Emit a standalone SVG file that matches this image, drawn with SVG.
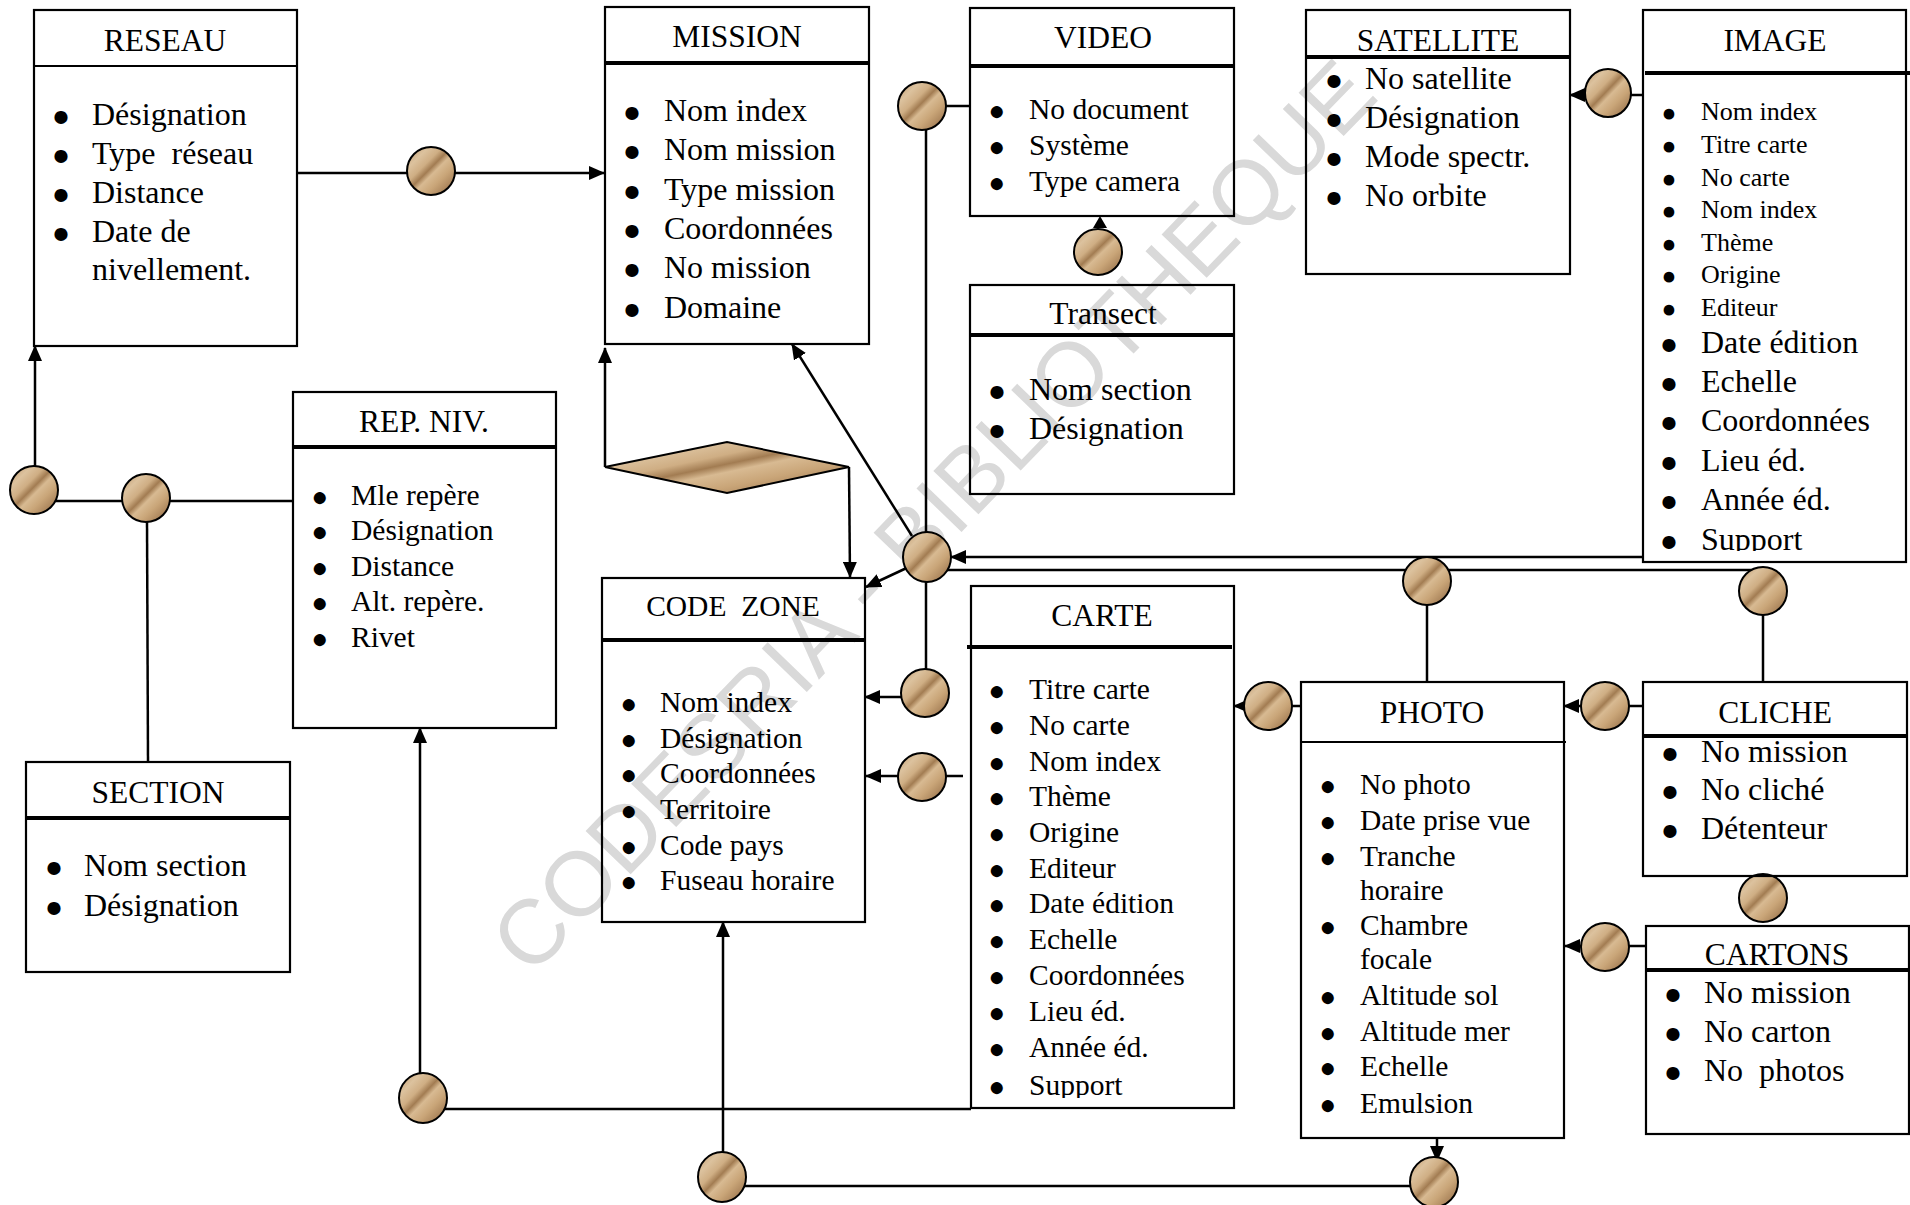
<svg xmlns="http://www.w3.org/2000/svg" width="1910" height="1205" viewBox="0 0 1910 1205">
<style>
text{font-family:"Liberation Serif","Times New Roman",serif;fill:#000;white-space:pre}
.box{fill:none;stroke:#000;stroke-width:2.2}
.hd{stroke:#000;stroke-width:4}
.hdt{stroke:#000;stroke-width:2}
.t{font-size:31.5px;text-anchor:middle}
.b{text-anchor:middle;font-size:0.95em}
.f32{font-size:32px}
.f29{font-size:29.5px}
.f26{font-size:26px}
.c{fill:none;stroke:#000;stroke-width:2.5}
.rel{fill:url(#rock);stroke:#000;stroke-width:2}
.wm{font-family:"Liberation Sans",Arial,sans-serif;font-size:91px;fill:#d9d9d9;text-anchor:middle}
</style>
<defs>
<linearGradient id="rock" x1="0.1" y1="0" x2="0.9" y2="0.8">
<stop offset="0" stop-color="#c29d72"/>
<stop offset="0.22" stop-color="#dcc29e"/>
<stop offset="0.4" stop-color="#cfae84"/>
<stop offset="0.52" stop-color="#a27c52"/>
<stop offset="0.62" stop-color="#d8ba92"/>
<stop offset="0.8" stop-color="#c9a578"/>
<stop offset="1" stop-color="#a9835a"/>
</linearGradient>
<marker id="ah" markerUnits="userSpaceOnUse" markerWidth="16" markerHeight="14" refX="15" refY="7" orient="auto">
<path d="M0,0 L16,7 L0,14 z" fill="#000"/>
</marker>
<clipPath id="clipImg"><rect x="1643" y="10" width="263" height="541"/></clipPath>
<clipPath id="clipCarte"><rect x="971" y="586" width="263" height="512"/></clipPath>
</defs>
<rect x="0" y="0" width="1910" height="1205" fill="#fff"/>
<text class="wm" transform="translate(933,516) rotate(-46)" dominant-baseline="central">CODESRIA - BIBLIOTHEQUE</text>

<g id="connectors">
<line class="c" x1="297" y1="173" x2="604" y2="173" marker-end="url(#ah)"/>
<line class="c" x1="35" y1="466" x2="35" y2="346" marker-end="url(#ah)"/>
<line class="c" x1="34" y1="501" x2="293" y2="501"/>
<line class="c" x1="147" y1="520" x2="148" y2="762"/>
<polyline class="c" points="605,467 605,348" marker-end="url(#ah)"/>
<polyline class="c" points="849,467 850,577" marker-end="url(#ah)"/>
<line class="c" x1="912" y1="536" x2="792" y2="344" marker-end="url(#ah)"/>
<line class="c" x1="913" y1="565" x2="866" y2="587" marker-end="url(#ah)"/>
<line class="c" x1="926" y1="106" x2="926" y2="693"/>
<line class="c" x1="946" y1="106" x2="970" y2="106"/>
<line class="c" x1="1643" y1="557" x2="951" y2="557" marker-end="url(#ah)"/>
<line class="c" x1="927" y1="570" x2="1763" y2="570"/>
<line class="c" x1="1427" y1="605" x2="1427" y2="682"/>
<line class="c" x1="1763" y1="615" x2="1763" y2="682"/>
<line class="c" x1="1643" y1="95" x2="1570" y2="95" marker-end="url(#ah)"/>
<line class="c" x1="925" y1="697" x2="865" y2="697" marker-end="url(#ah)"/>
<line class="c" x1="963" y1="776" x2="866" y2="776" marker-end="url(#ah)"/>
<line class="c" x1="1301" y1="706" x2="1234" y2="706" marker-end="url(#ah)"/>
<line class="c" x1="1643" y1="706" x2="1564" y2="706" marker-end="url(#ah)"/>
<line class="c" x1="1646" y1="946" x2="1565" y2="946" marker-end="url(#ah)"/>
<line class="c" x1="420" y1="1098" x2="420" y2="728" marker-end="url(#ah)"/>
<line class="c" x1="423" y1="1109" x2="971" y2="1109"/>
<line class="c" x1="723" y1="1176" x2="723" y2="922" marker-end="url(#ah)"/>
<line class="c" x1="722" y1="1186" x2="1433" y2="1186"/>
<line class="c" x1="1437" y1="1138" x2="1437" y2="1161" marker-end="url(#ah)"/>
<polygon points="1093,228 1100,216 1107,228" fill="#000"/>
</g>

<g id="relations">
<ellipse id="r-reseau-mission" class="rel" cx="431" cy="171" rx="24" ry="24"/>
<ellipse id="r-reseau-rep" class="rel" cx="34" cy="490" rx="24" ry="24"/>
<ellipse id="r-section-rep" class="rel" cx="146" cy="498" rx="24" ry="24"/>
<polygon id="r-diamond" class="rel" points="605,467 727,442 849,467 727,493"/>
<ellipse id="r-video" class="rel" cx="922" cy="106" rx="24" ry="24"/>
<ellipse id="r-video-transect" class="rel" cx="1098" cy="252" rx="24" ry="23"/>
<ellipse id="r-sat-image" class="rel" cx="1608" cy="93" rx="23" ry="24"/>
<ellipse id="r-hub" class="rel" cx="927" cy="557" rx="24" ry="25"/>
<ellipse id="r-photo-top" class="rel" cx="1427" cy="581" rx="24" ry="24"/>
<ellipse id="r-cliche-top" class="rel" cx="1763" cy="591" rx="24" ry="24"/>
<ellipse id="r-cz1" class="rel" cx="925" cy="693" rx="24" ry="24"/>
<ellipse id="r-cz2" class="rel" cx="922" cy="777" rx="24" ry="24"/>
<ellipse id="r-carte-photo" class="rel" cx="1268" cy="706" rx="24" ry="24"/>
<ellipse id="r-photo-cliche" class="rel" cx="1605" cy="706" rx="24" ry="24"/>
<ellipse id="r-cliche-cartons" class="rel" cx="1763" cy="898" rx="24" ry="24"/>
<ellipse id="r-photo-cartons" class="rel" cx="1605" cy="947" rx="24" ry="24"/>
<ellipse id="r-rep-carte" class="rel" cx="423" cy="1098" rx="24" ry="25"/>
<ellipse id="r-cz-bottom" class="rel" cx="722" cy="1177" rx="24" ry="25"/>
<ellipse id="r-photo-bottom" class="rel" cx="1434" cy="1182" rx="24" ry="25"/>
</g>

<g id="reseau">
<rect class="box" x="34" y="10" width="263" height="336"/>
<line class="hdt" x1="34" y1="66" x2="297" y2="66"/>
<text class="t" x="165" y="51">RESEAU</text>
<text class="f32"><tspan class="b" x="61" y="126">●</tspan><tspan x="92" y="125">Désignation</tspan></text>
<text class="f32"><tspan class="b" x="61" y="165">●</tspan><tspan x="92" y="164">Type  réseau</tspan></text>
<text class="f32"><tspan class="b" x="61" y="204">●</tspan><tspan x="92" y="203">Distance</tspan></text>
<text class="f32"><tspan class="b" x="61" y="243">●</tspan><tspan x="92" y="242">Date de</tspan></text>
<text class="f32" x="92" y="280">nivellement.</text>
</g>

<g id="mission">
<rect class="box" x="605" y="7" width="264" height="337"/>
<line class="hd" x1="605" y1="63" x2="869" y2="63"/>
<text class="t" x="737" y="47">MISSION</text>
<text class="f32"><tspan class="b" x="632" y="122">●</tspan><tspan x="664" y="121">Nom index</tspan></text>
<text class="f32"><tspan class="b" x="632" y="161">●</tspan><tspan x="664" y="160">Nom mission</tspan></text>
<text class="f32"><tspan class="b" x="632" y="201">●</tspan><tspan x="664" y="200">Type mission</tspan></text>
<text class="f32"><tspan class="b" x="632" y="240">●</tspan><tspan x="664" y="239">Coordonnées</tspan></text>
<text class="f32"><tspan class="b" x="632" y="279">●</tspan><tspan x="664" y="278">No mission</tspan></text>
<text class="f32"><tspan class="b" x="632" y="319">●</tspan><tspan x="664" y="318">Domaine</tspan></text>
</g>

<g id="video">
<rect class="box" x="970" y="8" width="264" height="208"/>
<line class="hd" x1="970" y1="66" x2="1234" y2="66"/>
<text class="t" x="1103" y="48">VIDEO</text>
<text class="f29"><tspan class="b" x="997" y="120">●</tspan><tspan x="1029" y="119">No document</tspan></text>
<text class="f29"><tspan class="b" x="997" y="156">●</tspan><tspan x="1029" y="155">Système</tspan></text>
<text class="f29"><tspan class="b" x="997" y="192">●</tspan><tspan x="1029" y="191">Type camera</tspan></text>
</g>

<g id="transect">
<rect class="box" x="970" y="285" width="264" height="209"/>
<line class="hd" x1="970" y1="335" x2="1234" y2="335"/>
<text class="t" x="1103" y="324">Transect</text>
<text class="f32"><tspan class="b" x="997" y="401">●</tspan><tspan x="1029" y="400">Nom section</tspan></text>
<text class="f32"><tspan class="b" x="997" y="440">●</tspan><tspan x="1029" y="439">Désignation</tspan></text>
</g>

<g id="satellite">
<rect class="box" x="1306" y="10" width="264" height="264"/>
<line class="hd" x1="1306" y1="57" x2="1570" y2="57"/>
<text class="t" x="1438" y="51">SATELLITE</text>
<text class="f32"><tspan class="b" x="1334" y="90">●</tspan><tspan x="1365" y="89">No satellite</tspan></text>
<text class="f32"><tspan class="b" x="1334" y="129">●</tspan><tspan x="1365" y="128">Désignation</tspan></text>
<text class="f32"><tspan class="b" x="1334" y="168">●</tspan><tspan x="1365" y="167">Mode spectr.</tspan></text>
<text class="f32"><tspan class="b" x="1334" y="207">●</tspan><tspan x="1365" y="206">No orbite</tspan></text>
</g>

<g id="image">
<rect class="box" x="1643" y="10" width="263" height="552"/>
<line class="hd" x1="1645" y1="73" x2="1910" y2="73"/>
<text class="t" x="1775" y="51">IMAGE</text>
<g clip-path="url(#clipImg)">
<text class="f26"><tspan class="b" x="1669" y="121">●</tspan><tspan x="1701" y="120">Nom index</tspan></text>
<text class="f26"><tspan class="b" x="1669" y="154">●</tspan><tspan x="1701" y="153">Titre carte</tspan></text>
<text class="f26"><tspan class="b" x="1669" y="187">●</tspan><tspan x="1701" y="186">No carte</tspan></text>
<text class="f26"><tspan class="b" x="1669" y="219">●</tspan><tspan x="1701" y="218">Nom index</tspan></text>
<text class="f26"><tspan class="b" x="1669" y="252">●</tspan><tspan x="1701" y="251">Thème</tspan></text>
<text class="f26"><tspan class="b" x="1669" y="284">●</tspan><tspan x="1701" y="283">Origine</tspan></text>
<text class="f26"><tspan class="b" x="1669" y="317">●</tspan><tspan x="1701" y="316">Editeur</tspan></text>
<text class="f32"><tspan class="b" x="1669" y="354">●</tspan><tspan x="1701" y="353">Date édition</tspan></text>
<text class="f32"><tspan class="b" x="1669" y="393">●</tspan><tspan x="1701" y="392">Echelle</tspan></text>
<text class="f32"><tspan class="b" x="1669" y="432">●</tspan><tspan x="1701" y="431">Coordonnées</tspan></text>
<text class="f32"><tspan class="b" x="1669" y="472">●</tspan><tspan x="1701" y="471">Lieu éd.</tspan></text>
<text class="f32"><tspan class="b" x="1669" y="511">●</tspan><tspan x="1701" y="510">Année éd.</tspan></text>
<text class="f32"><tspan class="b" x="1669" y="551">●</tspan><tspan x="1701" y="550">Support</tspan></text>
</g>
</g>

<g id="rep-niv">
<rect class="box" x="293" y="392" width="263" height="336"/>
<line class="hd" x1="293" y1="447" x2="556" y2="447"/>
<text class="t" x="424" y="432">REP. NIV.</text>
<text class="f29"><tspan class="b" x="320" y="506">●</tspan><tspan x="351" y="505">Mle repère</tspan></text>
<text class="f29"><tspan class="b" x="320" y="541">●</tspan><tspan x="351" y="540">Désignation</tspan></text>
<text class="f29"><tspan class="b" x="320" y="577">●</tspan><tspan x="351" y="576">Distance</tspan></text>
<text class="f29"><tspan class="b" x="320" y="612">●</tspan><tspan x="351" y="611">Alt. repère.</tspan></text>
<text class="f29"><tspan class="b" x="320" y="648">●</tspan><tspan x="351" y="647">Rivet</tspan></text>
</g>

<g id="section">
<rect class="box" x="26" y="762" width="264" height="210"/>
<line class="hd" x1="26" y1="818" x2="290" y2="818"/>
<text class="t" x="158" y="803">SECTION</text>
<text class="f32"><tspan class="b" x="54" y="877">●</tspan><tspan x="84" y="876">Nom section</tspan></text>
<text class="f32"><tspan class="b" x="54" y="917">●</tspan><tspan x="84" y="916">Désignation</tspan></text>
</g>

<g id="code-zone">
<rect class="box" x="602" y="578" width="263" height="344"/>
<line class="hd" x1="602" y1="640" x2="865" y2="640"/>
<text class="t" x="733" y="616" style="font-size:29.5px">CODE  ZONE</text>
<text class="f29"><tspan class="b" x="629" y="713">●</tspan><tspan x="660" y="712">Nom index</tspan></text>
<text class="f29"><tspan class="b" x="629" y="749">●</tspan><tspan x="660" y="748">Désignation</tspan></text>
<text class="f29"><tspan class="b" x="629" y="784">●</tspan><tspan x="660" y="783">Coordonnées</tspan></text>
<text class="f29"><tspan class="b" x="629" y="820">●</tspan><tspan x="660" y="819">Territoire</tspan></text>
<text class="f29"><tspan class="b" x="629" y="856">●</tspan><tspan x="660" y="855">Code pays</tspan></text>
<text class="f29"><tspan class="b" x="629" y="891">●</tspan><tspan x="660" y="890">Fuseau horaire</tspan></text>
</g>

<g id="carte">
<rect class="box" x="971" y="586" width="263" height="522"/>
<line class="hd" x1="967" y1="647" x2="1232" y2="647"/>
<text class="t" x="1102" y="626">CARTE</text>
<g clip-path="url(#clipCarte)">
<text class="f29"><tspan class="b" x="997" y="700">●</tspan><tspan x="1029" y="699">Titre carte</tspan></text>
<text class="f29"><tspan class="b" x="997" y="736">●</tspan><tspan x="1029" y="735">No carte</tspan></text>
<text class="f29"><tspan class="b" x="997" y="772">●</tspan><tspan x="1029" y="771">Nom index</tspan></text>
<text class="f29"><tspan class="b" x="997" y="807">●</tspan><tspan x="1029" y="806">Thème</tspan></text>
<text class="f29"><tspan class="b" x="997" y="843">●</tspan><tspan x="1029" y="842">Origine</tspan></text>
<text class="f29"><tspan class="b" x="997" y="879">●</tspan><tspan x="1029" y="878">Editeur</tspan></text>
<text class="f29"><tspan class="b" x="997" y="914">●</tspan><tspan x="1029" y="913">Date édition</tspan></text>
<text class="f29"><tspan class="b" x="997" y="950">●</tspan><tspan x="1029" y="949">Echelle</tspan></text>
<text class="f29"><tspan class="b" x="997" y="986">●</tspan><tspan x="1029" y="985">Coordonnées</tspan></text>
<text class="f29"><tspan class="b" x="997" y="1022">●</tspan><tspan x="1029" y="1021">Lieu éd.</tspan></text>
<text class="f29"><tspan class="b" x="997" y="1058">●</tspan><tspan x="1029" y="1057">Année éd.</tspan></text>
<text class="f29"><tspan class="b" x="997" y="1096">●</tspan><tspan x="1029" y="1095">Support</tspan></text>
</g>
</g>

<g id="photo">
<rect class="box" x="1301" y="682" width="263" height="456"/>
<line class="hdt" x1="1301" y1="742" x2="1566" y2="742"/>
<text class="t" x="1432" y="723">PHOTO</text>
<text class="f29"><tspan class="b" x="1328" y="795">●</tspan><tspan x="1360" y="794">No photo</tspan></text>
<text class="f29"><tspan class="b" x="1328" y="831">●</tspan><tspan x="1360" y="830">Date prise vue</tspan></text>
<text class="f29"><tspan class="b" x="1328" y="867">●</tspan><tspan x="1360" y="866">Tranche</tspan></text>
<text class="f29" x="1360" y="900">horaire</text>
<text class="f29"><tspan class="b" x="1328" y="936">●</tspan><tspan x="1360" y="935">Chambre</tspan></text>
<text class="f29" x="1360" y="969">focale</text>
<text class="f29"><tspan class="b" x="1328" y="1006">●</tspan><tspan x="1360" y="1005">Altitude sol</tspan></text>
<text class="f29"><tspan class="b" x="1328" y="1042">●</tspan><tspan x="1360" y="1041">Altitude mer</tspan></text>
<text class="f29"><tspan class="b" x="1328" y="1077">●</tspan><tspan x="1360" y="1076">Echelle</tspan></text>
<text class="f29"><tspan class="b" x="1328" y="1114">●</tspan><tspan x="1360" y="1113">Emulsion</tspan></text>
</g>

<g id="cliche">
<rect class="box" x="1643" y="682" width="264" height="194"/>
<line class="hd" x1="1643" y1="736" x2="1907" y2="736"/>
<text class="t" x="1775" y="723">CLICHE</text>
<text class="f32"><tspan class="b" x="1670" y="763">●</tspan><tspan x="1701" y="762">No mission</tspan></text>
<text class="f32"><tspan class="b" x="1670" y="801">●</tspan><tspan x="1701" y="800">No cliché</tspan></text>
<text class="f32"><tspan class="b" x="1670" y="840">●</tspan><tspan x="1701" y="839">Détenteur</tspan></text>
</g>

<g id="cartons">
<rect class="box" x="1646" y="926" width="263" height="208"/>
<line class="hd" x1="1646" y1="970" x2="1909" y2="970"/>
<text class="t" x="1777" y="965">CARTONS</text>
<text class="f32"><tspan class="b" x="1673" y="1004">●</tspan><tspan x="1704" y="1003">No mission</tspan></text>
<text class="f32"><tspan class="b" x="1673" y="1043">●</tspan><tspan x="1704" y="1042">No carton</tspan></text>
<text class="f32"><tspan class="b" x="1673" y="1082">●</tspan><tspan x="1704" y="1081">No  photos</tspan></text>
</g>
</svg>
